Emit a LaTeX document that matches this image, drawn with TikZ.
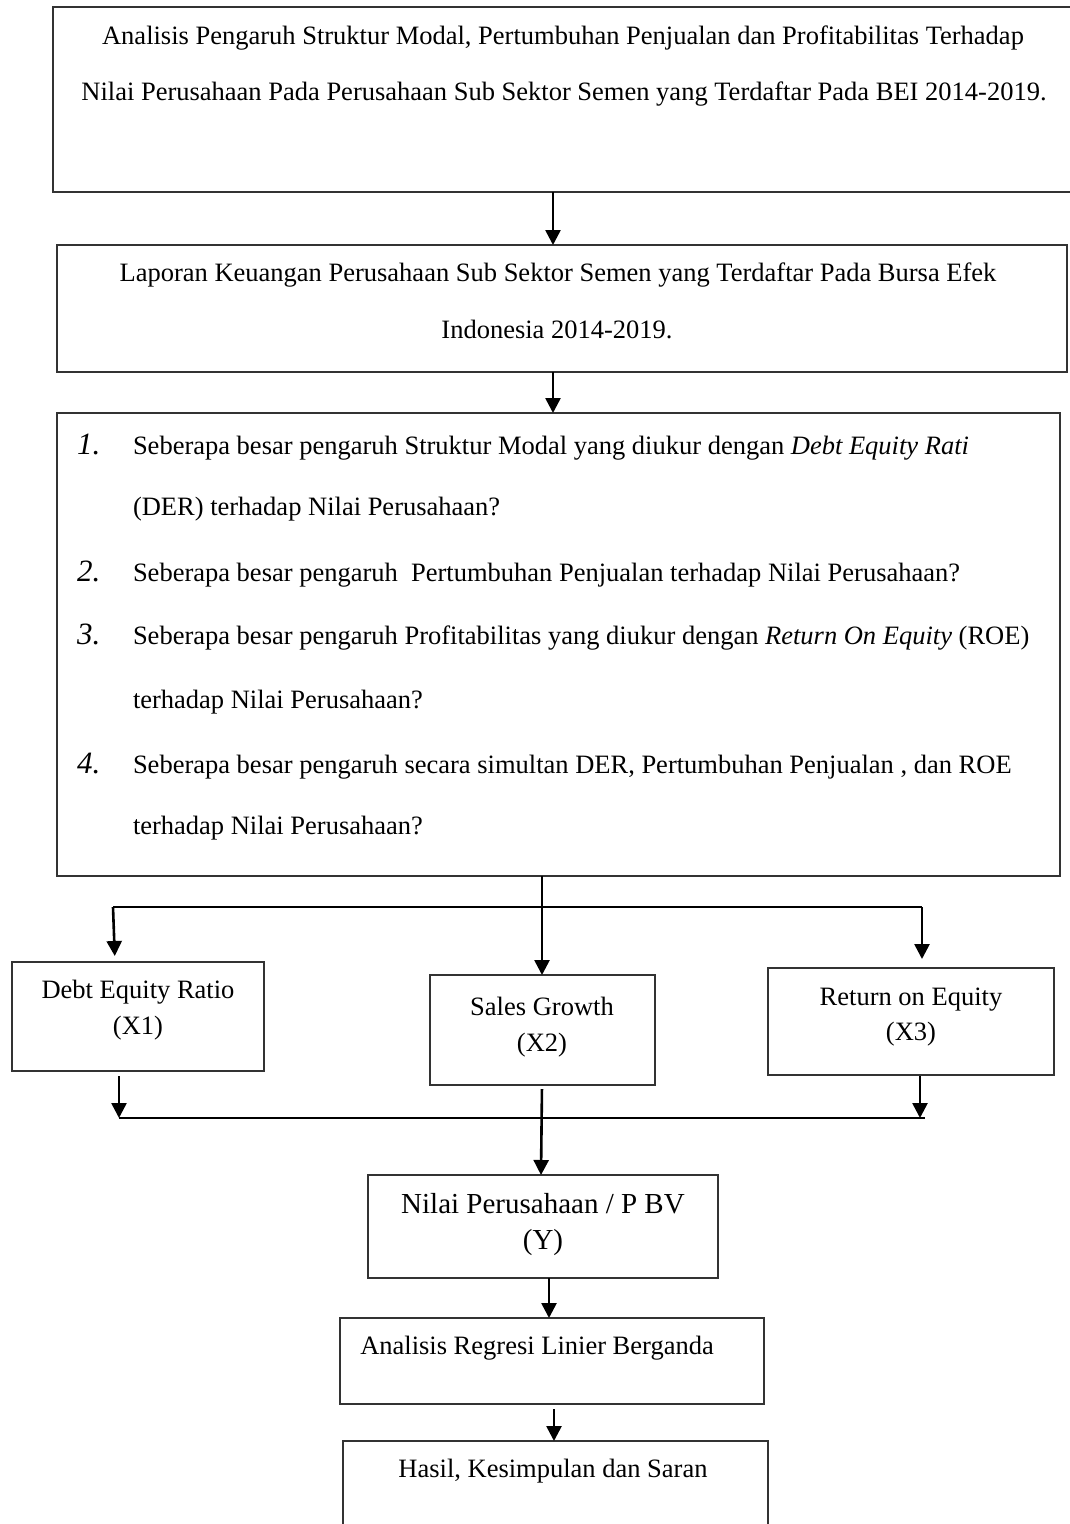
\documentclass[tikz,border=0pt]{standalone}
\usepackage{fontspec}
\setmainfont{Liberation Serif}
\usetikzlibrary{arrows.meta}
\begin{document}
\begin{tikzpicture}[x=1pt,y=-1pt,
  box/.style={draw=black!80, line width=1.3pt, anchor=north west, inner sep=0pt, outer sep=0pt},
  txt/.style={inner sep=0pt, outer sep=0pt, font=\fontsize{26.5}{30}\selectfont},
  numtxt/.style={inner sep=0pt, outer sep=0pt, font=\fontsize{31}{34}\selectfont\itshape},
  bigtxt/.style={inner sep=0pt, outer sep=0pt, font=\fontsize{29}{33}\selectfont},
  arr/.style={line width=2.6pt, -{Triangle[length=15pt,width=15pt]}},
  ln/.style={line width=2.4pt}]
\useasboundingbox (0,0) rectangle (1070,1524);
% boxes
\node[box, minimum width=1027pt, minimum height=185pt] (b1) at (53,7) {};
\node[box, minimum width=1010pt, minimum height=127pt] (b2) at (57,245) {};
\node[box, minimum width=1003pt, minimum height=463pt] (b3) at (57,413) {};
\node[box, minimum width=252pt, minimum height=109pt] (der) at (12,962) {};
\node[box, minimum width=225pt, minimum height=110pt] (sg) at (430,975) {};
\node[box, minimum width=286pt, minimum height=107pt] (roe) at (768,968) {};
\node[box, minimum width=350pt, minimum height=103pt] (nv) at (368,1175) {};
\node[box, minimum width=424pt, minimum height=86pt] (reg) at (340,1318) {};
\node[box, minimum width=425pt, minimum height=95pt] (has) at (343,1441) {};
% texts
\node[txt, anchor=base] (b1a) at (563,44) {Analisis Pengaruh Struktur Modal, Pertumbuhan Penjualan dan Profitabilitas Terhadap};
\node[txt, anchor=base] (b1b) at (564,100) {Nilai Perusahaan Pada Perusahaan Sub Sektor Semen yang Terdaftar Pada BEI 2014-2019.};
\node[txt, anchor=base] (b2a) at (558,281) {Laporan Keuangan Perusahaan Sub Sektor Semen yang Terdaftar Pada Bursa Efek};
\node[txt, anchor=base] (b2b) at (557,338) {Indonesia 2014-2019.};
\node[numtxt, anchor=base west] (n1) at (77,454) {1.};
\node[txt, anchor=base west] (q1a) at (133,454) {Seberapa besar pengaruh Struktur Modal yang diukur dengan \textit{Debt Equity Rati}};
\node[txt, anchor=base west] (q1b) at (133,515) {(DER) terhadap Nilai Perusahaan?};
\node[numtxt, anchor=base west] (n2) at (77,581) {2.};
\node[txt, anchor=base west] (q2a) at (133,581) {Seberapa besar pengaruh\ \ Pertumbuhan Penjualan terhadap Nilai Perusahaan?};
\node[numtxt, anchor=base west] (n3) at (77,644) {3.};
\node[txt, anchor=base west] (q3a) at (133,644) {Seberapa besar pengaruh Profitabilitas yang diukur dengan \textit{Return On Equity} (ROE)};
\node[txt, anchor=base west] (q3b) at (133,708) {terhadap Nilai Perusahaan?};
\node[numtxt, anchor=base west] (n4) at (77,773) {4.};
\node[txt, anchor=base west] (q4a) at (133,773) {Seberapa besar pengaruh secara simultan DER, Pertumbuhan Penjualan , dan ROE};
\node[txt, anchor=base west] (q4b) at (133,834) {terhadap Nilai Perusahaan?};
\node[txt, anchor=base] (dera) at (138,998) {Debt Equity Ratio};
\node[txt, anchor=base] (derb) at (138,1034) {(X1)};
\node[txt, anchor=base] (sga) at (542,1015) {Sales Growth};
\node[txt, anchor=base] (sgb) at (542,1051) {(X2)};
\node[txt, anchor=base] (roea) at (911,1005) {Return on Equity};
\node[txt, anchor=base] (roeb) at (911,1040) {(X3)};
\node[bigtxt, anchor=base] (nva) at (543,1213) {Nilai Perusahaan / P BV};
\node[bigtxt, anchor=base] (nvb) at (543,1249) {(Y)};
\node[txt, anchor=base] (rega) at (537,1354) {Analisis Regresi Linier Berganda};
\node[txt, anchor=base] (hasa) at (553,1477) {Hasil, Kesimpulan dan Saran};
% coordinates for junctions
\coordinate (sl) at (113,907);
\coordinate (sr) at (922,907);
\coordinate (ml) at (119,1118);
\coordinate (mr) at (925,1118);
% connectors
\draw[arr] ([xshift=500pt]b1.south west) -- ([xshift=496pt]b2.north west);
\draw[arr] ([xshift=496pt]b2.south west) -- ([xshift=496pt]b3.north west);
\draw[arr] ([xshift=485pt]b3.south west) -- ([xshift=112pt]sg.north west);
\draw[ln] (sl) -- (sr);
\draw[arr, shorten >=6pt] (sl) -- ([xshift=103pt]der.north west);
\draw[arr, shorten >=9pt] (sr) -- ([xshift=154pt]roe.north west);
\draw[arr, shorten <=5pt] ([xshift=107pt]der.south west) -- (ml);
\draw[arr, shorten <=1pt] ([xshift=152pt]roe.south west) -- (mr -| 920,0);
\draw[ln] (ml) -- (mr);
\draw[arr, shorten <=4pt] ([xshift=112pt]sg.south west) -- ([xshift=173pt]nv.north west);
\draw[arr] ([xshift=181pt]nv.south west) -- ([xshift=209pt]reg.north west);
\draw[arr, shorten <=5pt] ([xshift=214pt]reg.south west) -- ([xshift=211pt]has.north west);
\end{tikzpicture}
\end{document}
